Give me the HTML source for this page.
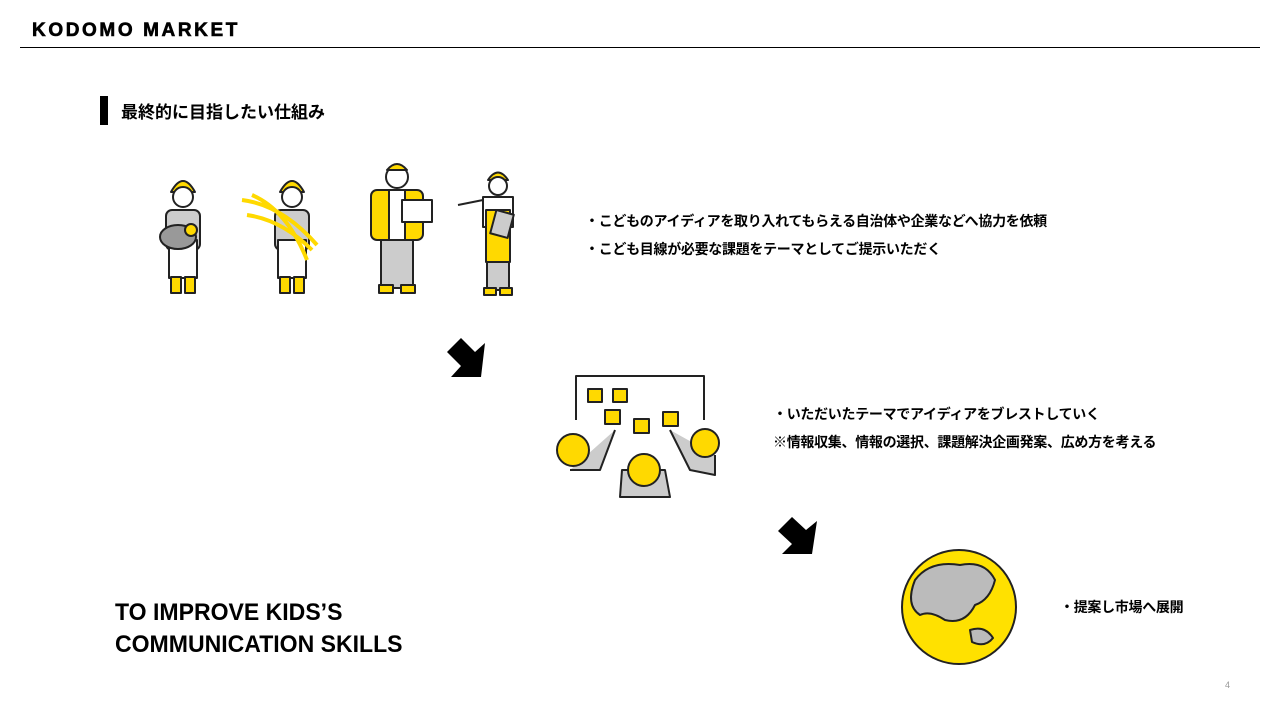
<!DOCTYPE html>
<html><head><meta charset="utf-8">
<style>
body{margin:0;width:1280px;height:720px;background:#fff;position:relative;overflow:hidden;font-family:"Liberation Sans","Noto Sans CJK JP",sans-serif;color:#000}
.a{position:absolute;white-space:nowrap}
.j{font-size:14px;font-weight:bold;letter-spacing:-0.3px}
</style></head><body>
<div class="a" style="left:32px;top:20px;font-size:19px;font-weight:900;letter-spacing:2.6px;-webkit-text-stroke:0.6px #000">KODOMO MARKET</div>
<div class="a" style="left:20px;top:47px;width:1240px;height:1px;background:#000"></div>
<div class="a" style="left:100px;top:96px;width:8px;height:29px;background:#000"></div>
<div class="a" style="left:121px;top:98px;font-size:17px;font-weight:bold">最終的に目指したい仕組み</div>

<div class="a j" style="left:585px;top:211px">・こどものアイディアを取り入れてもらえる自治体や企業などへ協力を依頼</div>
<div class="a j" style="left:585px;top:239px">・こども目線が必要な課題をテーマとしてご提示いただく</div>
<div class="a j" style="left:773px;top:404px">・いただいたテーマでアイディアをブレストしていく</div>
<div class="a j" style="left:773px;top:432px">※情報収集、情報の選択、課題解決企画発案、広め方を考える</div>
<div class="a j" style="left:1060px;top:597px">・提案し市場へ展開</div>

<div class="a" style="left:115px;top:597px;font-size:24px;font-weight:bold;line-height:32px;transform:scaleX(0.96);transform-origin:left">TO IMPROVE KIDS’S<br>COMMUNICATION SKILLS</div>
<div class="a" style="left:1225px;top:680px;font-size:9px;color:#999">4</div>

<svg class="a" style="left:0;top:0" width="1280" height="720">
<g stroke="#222" stroke-width="2" stroke-linejoin="round">
 <g transform="translate(183,0)">
  <path d="M-12 192 Q0 170 12 192 Z" fill="#ffd900"/>
  <circle cx="0" cy="197" r="10" fill="#fff"/>
  <rect x="-17" y="210" width="34" height="40" rx="6" fill="#ccc"/>
  <rect x="-14" y="240" width="28" height="38" fill="#fff"/>
  <ellipse cx="-5" cy="237" rx="18" ry="12" fill="#999"/>
  <circle cx="8" cy="230" r="6" fill="#ffd900"/>
  <rect x="-12" y="277" width="10" height="16" fill="#ffd900"/>
  <rect x="2" y="277" width="10" height="16" fill="#ffd900"/>
 </g>
 <g transform="translate(292,0)">
  <path d="M-12 192 Q0 170 12 192 Z" fill="#ffd900"/>
  <circle cx="0" cy="197" r="10" fill="#fff"/>
  <rect x="-17" y="210" width="34" height="40" rx="6" fill="#ccc"/>
  <rect x="-14" y="240" width="28" height="38" fill="#fff"/>
  <path d="M-50 200 Q-10 205 25 245 M-45 215 Q-10 220 20 250 M-40 195 Q-5 210 15 260" fill="none" stroke="#ffd900" stroke-width="4"/>
  <rect x="-12" y="277" width="10" height="16" fill="#ffd900"/>
  <rect x="2" y="277" width="10" height="16" fill="#ffd900"/>
 </g>
 <g transform="translate(397,0)">
  <circle cx="0" cy="177" r="11" fill="#fff"/>
  <path d="M-10 170 Q0 158 10 170 Z" fill="#ffd900"/>
  <rect x="-26" y="190" width="52" height="50" rx="6" fill="#ffd900"/>
  <rect x="-8" y="190" width="16" height="50" fill="#fff"/>
  <rect x="5" y="200" width="30" height="22" fill="#fff"/>
  <rect x="-16" y="240" width="32" height="48" fill="#ccc"/>
  <rect x="-18" y="285" width="14" height="8" fill="#ffd900"/>
  <rect x="4" y="285" width="14" height="8" fill="#ffd900"/>
 </g>
 <g transform="translate(498,0)">
  <path d="M-10 180 Q0 165 10 180 Z" fill="#ffd900"/>
  <circle cx="0" cy="186" r="9" fill="#fff"/>
  <rect x="-15" y="197" width="30" height="30" fill="#fff"/>
  <rect x="-12" y="210" width="24" height="52" fill="#ffd900"/>
  <rect x="-5" y="212" width="18" height="24" fill="#ccc" transform="rotate(15 4 224)"/>
  <path d="M-15 200 L-40 205" fill="none"/>
  <rect x="-11" y="262" width="22" height="28" fill="#ccc"/>
  <rect x="-14" y="288" width="12" height="7" fill="#ffd900"/>
  <rect x="2" y="288" width="12" height="7" fill="#ffd900"/>
 </g>
 <path d="M576 420 V376 H704 V420" fill="none"/>
 <rect x="588" y="389" width="14" height="13" fill="#ffd900"/>
 <rect x="613" y="389" width="14" height="13" fill="#ffd900"/>
 <rect x="605" y="410" width="15" height="14" fill="#ffd900"/>
 <rect x="634" y="419" width="15" height="14" fill="#ffd900"/>
 <rect x="663" y="412" width="15" height="14" fill="#ffd900"/>
 <path d="M570 470 L600 470 L615 430" fill="#ccc"/>
 <circle cx="573" cy="450" r="16" fill="#ffd900"/>
 <path d="M670 430 L690 470 L715 475 L715 455" fill="#ccc"/>
 <circle cx="705" cy="443" r="14" fill="#ffd900"/>
 <path d="M620 497 L622 470 L665 470 L670 497 Z" fill="#ccc"/>
 <circle cx="644" cy="470" r="16" fill="#ffd900"/>
 <circle cx="959" cy="607" r="57" fill="#ffe100"/>
 <path d="M915 580 Q930 560 960 565 Q985 560 995 580 Q990 600 975 605 Q965 625 945 620 Q930 610 920 615 Q905 605 915 580 Z" fill="#bbb"/>
 <path d="M970 630 Q985 625 993 638 Q985 648 972 642 Z" fill="#bbb"/>
</g>
<polygon points="481,377 485,343 475,352 461,338 447,352 461,366 451,377" fill="#000"/>
<polygon points="812,554 817,521 806,530 792,517 778,531 792,544 782,554" fill="#000"/>
</svg>
</body></html>
